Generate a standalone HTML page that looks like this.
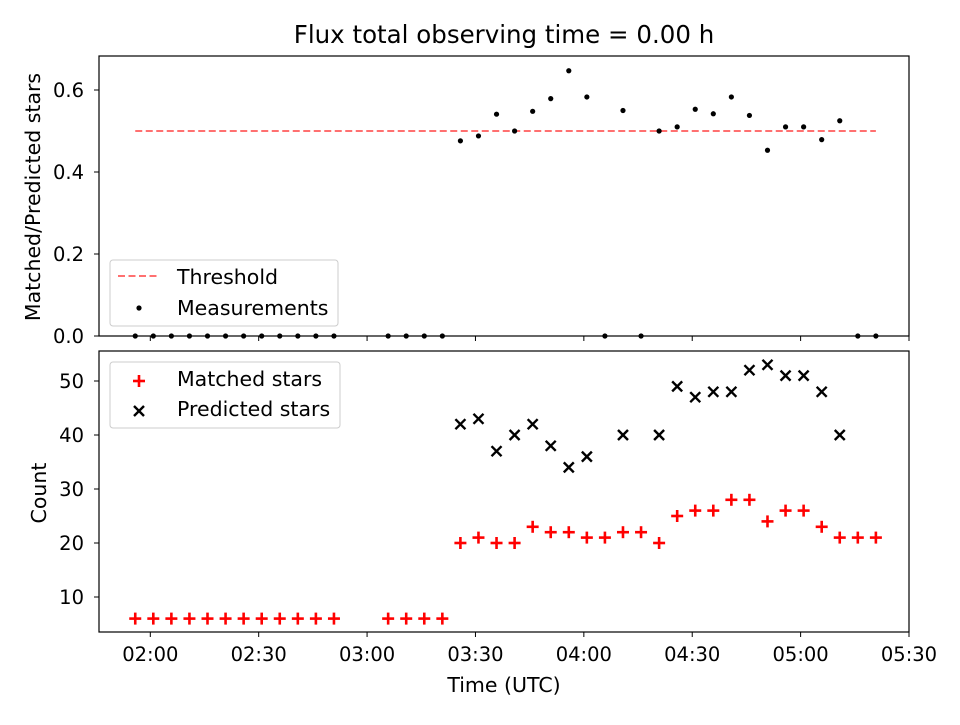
<!DOCTYPE html>
<html><head><meta charset="utf-8"><style>
body{margin:0;background:#fff}
svg text{font-family:"DejaVu Sans","Liberation Sans",sans-serif;fill:#000}
</style></head><body>
<svg id="chart" width="960" height="720" viewBox="0 0 960 720" xmlns="http://www.w3.org/2000/svg">
<rect width="960" height="720" fill="#fff"/>
<text x="504" y="43" font-size="24.5" text-anchor="middle">Flux total observing time = 0.00 h</text>
<g id="topAxes"></g><g id="botAxes"></g>
<text x="504" y="692" font-size="20.5" text-anchor="middle">Time (UTC)</text>
<text transform="translate(40,197) rotate(-90)" font-size="20.5" text-anchor="middle">Matched/Predicted stars</text>
<text transform="translate(46,493) rotate(-90)" font-size="20.5" text-anchor="middle">Count</text>
</svg>
<script>
const times=["01:55:50","02:00:50","02:05:50","02:10:50","02:15:50","02:20:50","02:25:50","02:30:50","02:35:50","02:40:50","02:45:50","02:50:50","03:05:50","03:10:50","03:15:50","03:20:50","03:25:50","03:30:50","03:35:50","03:40:50","03:45:50","03:50:50","03:55:50","04:00:50","04:05:50","04:10:50","04:15:50","04:20:50","04:25:50","04:30:50","04:35:50","04:40:50","04:45:50","04:50:50","04:55:50","05:00:50","05:05:50","05:10:50","05:15:50","05:20:50"];
const matched=[6,6,6,6,6,6,6,6,6,6,6,6,6,6,6,6,20,21,20,20,23,22,22,21,21,22,22,20,25,26,26,28,28,24,26,26,23,21,21,21];
const predicted=[null,null,null,null,null,null,null,null,null,null,null,null,null,null,null,null,42,43,37,40,42,38,34,36,null,40,null,40,49,47,48,48,52,53,51,51,48,40,null,null];
const ratio=[0,0,0,0,0,0,0,0,0,0,0,0,0,0,0,0,0.476,0.488,0.541,0.5,0.548,0.579,0.647,0.583,0,0.55,0,0.5,0.51,0.553,0.542,0.583,0.538,0.453,0.51,0.51,0.479,0.525,0,0];
const threshold=0.5;
const xTicks=["02:00","02:30","03:00","03:30","04:00","04:30","05:00","05:30"];
const topTicks=[0.0,0.2,0.4,0.6];
const botTicks=[10,20,30,40,50];

const NS="http://www.w3.org/2000/svg";
const L=99,R=909;
const mins=s=>{const p=s.split(":").map(Number);return p[0]*60+p[1]+(p[2]||0)/60;};
const X=m=>L+(m-105.8)*(R-L)/(330-105.8);
const yTop=v=>336-v*(336-90)/0.6;
const yBot=v=>597-(v-10)*(597-381)/40;
function el(p,t,a){const e=document.createElementNS(NS,t);for(const k in a)e.setAttribute(k,a[k]);p.appendChild(e);return e;}
const topG=document.getElementById('topAxes'),botG=document.getElementById('botAxes');
const TF=19.5, LF=20.5;

// top axes
const th=el(topG,'line',{x1:X(mins(times[0])),x2:X(mins(times[times.length-1])),y1:yTop(threshold),y2:yTop(threshold),stroke:'#ff7070','stroke-width':2,'stroke-dasharray':'7,3.5'});


ratio.forEach((v,i)=>{const c=el(topG,'circle',{cx:X(mins(times[i])),cy:yTop(v),r:2.6,fill:'#000'});

});
const f1=el(topG,'rect',{x:L,y:56,width:R-L,height:280,fill:'none',stroke:'#000','stroke-width':1.2});


topTicks.forEach(v=>{el(topG,'line',{x1:L-5,x2:L,y1:yTop(v),y2:yTop(v),stroke:'#000'});
const t=el(topG,'text',{x:L-15,y:yTop(v)+7,'font-size':TF,'text-anchor':'end'});t.textContent=v.toFixed(1);

});
xTicks.forEach(s=>{el(topG,'line',{x1:X(mins(s)),x2:X(mins(s)),y1:336,y2:341,stroke:'#000'});});
const lg=el(topG,'g',{});


el(lg,'rect',{x:110,y:260,width:228,height:66,rx:3,fill:'#fff','fill-opacity':0.8,stroke:'#ccc'});
el(lg,'line',{x1:118,x2:160,y1:276,y2:276,stroke:'#ff7070','stroke-width':2,'stroke-dasharray':'7,3.5'});
el(lg,'text',{x:177,y:284,'font-size':LF}).textContent='Threshold';
el(lg,'circle',{cx:139,cy:308,r:2.6,fill:'#000'});
el(lg,'text',{x:177,y:315,'font-size':LF}).textContent='Measurements';

// bottom axes
function plus(p,x,y){const g=el(p,'g',{stroke:'#f00','stroke-width':2.6});el(g,'line',{x1:x-6,x2:x+6,y1:y,y2:y});el(g,'line',{x1:x,x2:x,y1:y-6,y2:y+6});return g;}
function cross(p,x,y){const g=el(p,'g',{stroke:'#000','stroke-width':2.4});el(g,'line',{x1:x-5,x2:x+5,y1:y-5,y2:y+5});el(g,'line',{x1:x-5,x2:x+5,y1:y+5,y2:y-5});return g;}
matched.forEach((v,i)=>{const g=plus(botG,X(mins(times[i])),yBot(v));

});
predicted.forEach((v,i)=>{if(v===null)return;const g=cross(botG,X(mins(times[i])),yBot(v));

});
const f2=el(botG,'rect',{x:L,y:351,width:R-L,height:281,fill:'none',stroke:'#000','stroke-width':1.2});


botTicks.forEach(v=>{el(botG,'line',{x1:L-5,x2:L,y1:yBot(v),y2:yBot(v),stroke:'#000'});
const t=el(botG,'text',{x:L-15,y:yBot(v)+7,'font-size':TF,'text-anchor':'end'});t.textContent=v;

});
xTicks.forEach(s=>{el(botG,'line',{x1:X(mins(s)),x2:X(mins(s)),y1:632,y2:637,stroke:'#000'});
const t=el(botG,'text',{x:X(mins(s)),y:661,'font-size':TF,'text-anchor':'middle'});t.textContent=s;

});
const lg2=el(botG,'g',{});


el(lg2,'rect',{x:110,y:362,width:230,height:66,rx:3,fill:'#fff','fill-opacity':0.8,stroke:'#ccc'});
plus(lg2,139,381);
el(lg2,'text',{x:177,y:386,'font-size':LF}).textContent='Matched stars';
cross(lg2,139,411);
el(lg2,'text',{x:177,y:416,'font-size':LF}).textContent='Predicted stars';
</script>
</body></html>
